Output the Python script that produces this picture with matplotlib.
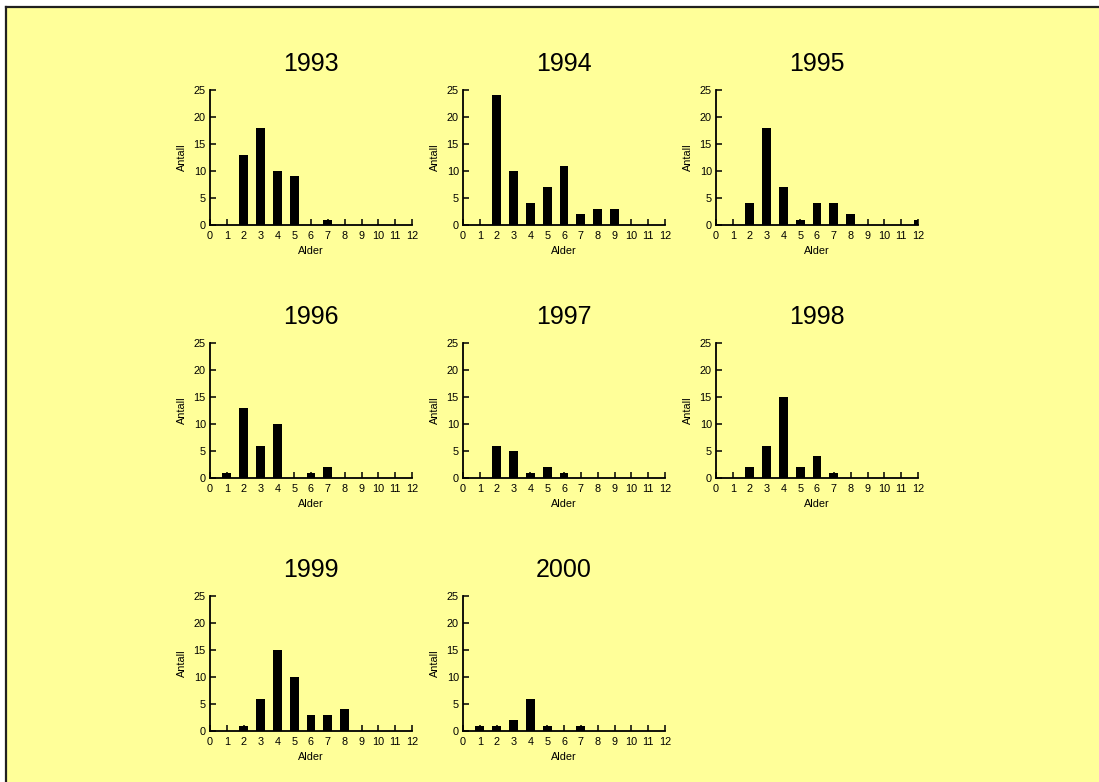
import matplotlib
matplotlib.use("Agg")
import matplotlib.pyplot as plt
from matplotlib.patches import Rectangle
from matplotlib.lines import Line2D

plt.rcParams['font.family'] = ['Liberation Sans', 'DejaVu Sans']

ages = [1, 2, 3, 4, 5, 6, 7, 8, 9, 10, 11, 12]
years = ["1993", "1994", "1995", "1996", "1997", "1998", "1999", "2000"]
counts_1993 = [0, 13, 18, 10, 9, 0, 1, 0, 0, 0, 0, 0]
counts_1994 = [0, 24, 10, 4, 7, 11, 2, 3, 3, 0, 0, 0]
counts_1995 = [0, 4, 18, 7, 1, 4, 4, 2, 0, 0, 0, 1]
counts_1996 = [1, 13, 6, 10, 0, 1, 2, 0, 0, 0, 0, 0]
counts_1997 = [0, 6, 5, 1, 2, 1, 0, 0, 0, 0, 0, 0]
counts_1998 = [0, 2, 6, 15, 2, 4, 1, 0, 0, 0, 0, 0]
counts_1999 = [0, 1, 6, 15, 10, 3, 3, 4, 0, 0, 0, 0]
counts_2000 = [1, 1, 2, 6, 1, 0, 1, 0, 0, 0, 0, 0]
all_counts = [counts_1993, counts_1994, counts_1995, counts_1996,
              counts_1997, counts_1998, counts_1999, counts_2000]

W, H = 1099, 782
fig = plt.figure(figsize=(W / 100, H / 100), dpi=100, facecolor='white')

# pale yellow panel with a dark frame on its left and top edges
fig.patches.append(Rectangle((6 / W, 0), 1, 1 - 7 / H, transform=fig.transFigure,
                             facecolor='#FFFF99', edgecolor='none', zorder=-5))
fig.lines.append(Line2D([6 / W, 6 / W], [0, 1 - 7 / H], transform=fig.transFigure,
                        color='#202020', lw=1.6, zorder=-4))
fig.lines.append(Line2D([6 / W, 1], [1 - 7 / H, 1 - 7 / H], transform=fig.transFigure,
                        color='#202020', lw=1.6, zorder=-4))

col_left = [210, 463, 716]
row_top = [90, 343, 596]
ax_w, ax_h = 202, 135

for i, (year, counts) in enumerate(zip(years, all_counts)):
    r, c = divmod(i, 3)
    left = col_left[c] / W
    bottom = 1 - (row_top[r] + ax_h) / H
    ax = fig.add_axes([left, bottom, ax_w / W, ax_h / H])
    ax.set_facecolor('none')
    ax.bar(ages, counts, width=0.52, color='black', zorder=3)
    ax.set_xlim(0, 12)
    ax.set_ylim(0, 25)
    ax.set_xticks(range(0, 13))
    ax.set_yticks([0, 5, 10, 15, 20, 25])
    for s in ('top', 'right'):
        ax.spines[s].set_visible(False)
    for s in ('left', 'bottom'):
        ax.spines[s].set_linewidth(1.3)
        ax.spines[s].set_color('black')
    ax.tick_params(direction='in', length=4, width=1.1, labelsize=7.8)
    ax.tick_params(axis='x', pad=4)
    ax.tick_params(axis='y', pad=3)
    ax.set_title(year, fontsize=18, pad=14)
    ax.set_xlabel('Alder', fontsize=7.8, labelpad=4)
    ax.set_ylabel('Antall', fontsize=7.8, labelpad=5)

fig.savefig('out.png', dpi=100, facecolor=fig.get_facecolor())
